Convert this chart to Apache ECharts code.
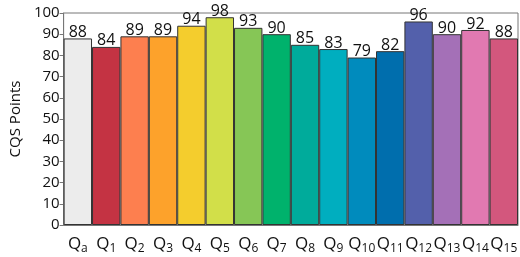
<!DOCTYPE html>
<html>
<head>
<meta charset="utf-8">
<script src="https://cdn.jsdelivr.net/npm/echarts@6/dist/echarts.min.js"></script>
<style>
  html, body { margin: 0; padding: 0; background: #fff; }
  #chart { width: 520px; height: 257px; }
</style>
</head>
<body>
<div id="chart"></div>
<script>
const subscripts = ['a', '1', '2', '3', '4', '5', '6', '7', '8', '9', '10', '11', '12', '13', '14', '15']
const cqsPoints = [88, 84, 89, 89, 94, 98, 93, 90, 85, 83, 79, 82, 96, 90, 92, 88]
const barColors = [
  '#ececec', '#c43343', '#fd7f4f', '#fda22b', '#f4cd2d', '#d2df49', '#86c656', '#00b26c',
  '#00ab9b', '#00aebf', '#008bbd', '#006ead', '#5360ab', '#a470b7', '#e179b1', '#d3577d'
]
const yTicks = [0, 10, 20, 30, 40, 50, 60, 70, 80, 90, 100]

const font = '"Open Sans", "DejaVu Sans", sans-serif'
const chart = echarts.init(document.getElementById('chart'))

chart.setOption({
  animation: false,
  textStyle: { fontFamily: font },
  grid: { left: 54, right: 2, top: 13, bottom: 32, show: true, borderColor: '#777', borderWidth: 1 },
  xAxis: {
    type: 'category',
    data: subscripts,
    axisLine: { lineStyle: { color: '#777' } },
    axisTick: { show: false },
    axisLabel: {
      interval: 0,
      margin: 8,
      formatter: s => '{q|Q}{s|' + s + '}',
      rich: {
        q: { fontSize: 17, color: '#111', fontFamily: font },
        s: { fontSize: 12, color: '#111', fontFamily: font, verticalAlign: 'bottom', padding: [10, 0, 0, 0] }
      }
    }
  },
  yAxis: {
    type: 'value',
    min: yTicks[0],
    max: yTicks[yTicks.length - 1],
    interval: 10,
    name: 'CQS Points',
    nameLocation: 'middle',
    nameGap: 31,
    nameTextStyle: { fontSize: 15, color: '#111', fontFamily: font },
    splitLine: { show: false },
    axisLine: { show: true, lineStyle: { color: '#777' } },
    axisTick: { show: true, length: 4, lineStyle: { color: '#777' } },
    axisLabel: { fontSize: 15, color: '#111', margin: 4 }
  },
  series: [{
    type: 'bar',
    barCategoryGap: '0%',
    data: cqsPoints.map((v, i) => ({ value: v, itemStyle: { color: barColors[i] } })),
    itemStyle: { borderColor: '#333', borderWidth: 1 },
    label: {
      show: true,
      position: 'top',
      distance: -2,
      fontSize: 16,
      color: '#111',
      fontFamily: font
    }
  }]
})
</script>
</body>
</html>
